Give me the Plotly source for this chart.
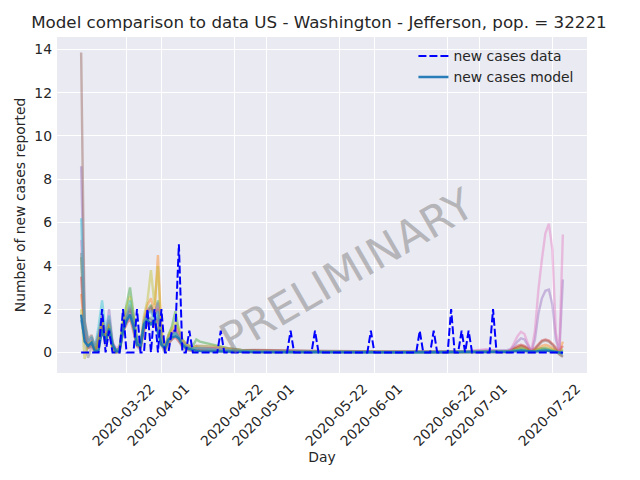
import numpy as np
import pandas as pd
import plotly.graph_objects as go

# ---------------- data ----------------
START_DATE = "2020-03-09"

# reported new cases per day, 2020-03-09 .. 2020-07-25
data_values = [
    0, 0, 0, 0, 0, 0, 2, 0, 1, 0,
    0, 0, 2, 0, 0, 0, 2, 0, 0, 2,
    0, 2, 0, 2, 0, 0, 1, 1, 5, 0,
    0, 1, 0, 0, 0, 0, 0, 0, 0, 0,
    1, 0, 0, 0, 0, 0, 0, 0, 0, 0,
    0, 0, 0, 0, 0, 0, 0, 0, 0, 0,
    1, 0, 0, 0, 0, 0, 0, 1, 0, 0,
    0, 0, 0, 0, 0, 0, 0, 0, 0, 0,
    0, 0, 0, 1, 0, 0, 0, 0, 0, 0,
    0, 0, 0, 0, 0, 0, 0, 1, 0, 0,
    0, 1, 0, 0, 0, 0, 2, 0, 0, 1,
    0, 1, 0, 0, 0, 0, 0, 0, 2, 0,
    0, 0, 0, 0, 0, 0, 0, 0, 0, 0,
    0, 0, 0, 0, 0, 0, 0, 0, 0,
]

# day offsets (from START_DATE) at which the model runs are listed
model_days = (list(range(0, 35))
              + [38, 42, 46, 50, 60, 70, 80, 90, 100, 110, 116]
              + list(range(120, 139)))

# main model curve ("new cases model")
model_main = [
    1.75, 0.5, 0.3, 0.45, 0.05, 0.1, 1.05, 0.5, 1.1, 0.35,
    0.05, 0.05, 1.0, 1.45, 1.75, 1.2, 0.35, 0.3, 1.3, 1.5,
    1.3, 1.5, 0.9, 0.35, 0.2, 0.6, 0.7, 0.75, 0.65, 0.35,
    0.2, 0.15, 0.1, 0.08, 0.06,
    0.06, 0.05, 0.03, 0.02, 0.01, 0.01, 0.01, 0.01, 0.01, 0.01, 0.02,
    0.02, 0.02, 0.02, 0.03, 0.05, 0.07, 0.08, 0.07, 0.05, 0.03,
    0.04, 0.06, 0.08, 0.08, 0.07, 0.05, 0.02, 0.0, -0.05,
]

# ensemble of model runs
run_blue = [
    1.5, 0.7, 0.2, 0.4, 0.1, 0.5, 1.3, 0.6, 1.2, 0.3,
    0.05, 0.1, 1.1, 1.5, 1.9, 1.3, 0.4, 0.3, 1.3, 1.6,
    1.5, 1.4, 1.7, 0.5, 0.2, 0.6, 0.8, 0.9, 0.7, 0.4,
    0.3, 0.2, 0.15, 0.2, 0.15,
    0.1, 0.08, 0.05, 0.03, 0.02, 0.02, 0.01, 0.01, 0.01, 0.01, 0.02,
    0.02, 0.02, 0.03, 0.05, 0.1, 0.15, 0.2, 0.15, 0.1, 0.05,
    0.1, 0.15, 0.2, 0.2, 0.15, 0.1, 0.05, 0.0, -0.05,
]
run_orange = [
    2.7, 1.0, 0.5, 0.6, 0.2, 0.8, 1.6, 0.5, 1.3, 0.2,
    0.1, 0.2, 1.2, 1.8, 2.2, 1.6, 0.6, 0.3, 1.5, 2.2,
    2.5, 1.8, 4.5, 1.0, 0.3, 0.7, 1.0, 1.2, 0.9, 0.5,
    0.3, 0.2, 0.2, 0.3, 0.2,
    0.2, 0.15, 0.1, 0.05, 0.04, 0.03, 0.02, 0.02, 0.02, 0.02, 0.03,
    0.03, 0.04, 0.05, 0.08, 0.15, 0.25, 0.3, 0.25, 0.15, 0.05,
    0.1, 0.2, 0.3, 0.35, 0.3, 0.2, 0.1, 0.05, 0.5,
]
run_green = [
    4.4, 1.2, 0.3, 0.5, 0.1, 0.6, 1.5, 0.8, 1.4, 0.4,
    0.1, 0.1, 1.4, 2.2, 3.0, 1.8, 0.5, 0.2, 1.2, 1.9,
    2.2, 1.6, 2.4, 0.6, 0.1, 0.8, 1.2, 1.9, 1.0, 0.6,
    0.4, 0.3, 0.3, 0.6, 0.5,
    0.35, 0.2, 0.12, 0.08, 0.05, 0.03, 0.02, 0.02, 0.02, 0.03, 0.05,
    0.05, 0.05, 0.05, 0.05, 0.1, 0.1, 0.15, 0.1, 0.05, 0.03,
    0.05, 0.1, 0.15, 0.15, 0.1, 0.05, 0.03, 0.0, 0.1,
]
run_red = [
    3.5, 0.8, 0.2, 0.3, 0.0, 0.4, 1.1, 0.4, 1.0, 0.2,
    0.0, 0.1, 0.9, 1.3, 1.6, 1.0, 0.3, 0.2, 1.0, 1.3,
    1.4, 1.2, 1.5, 0.4, 0.1, 0.4, 0.6, 0.7, 0.5, 0.3,
    0.2, 0.1, 0.1, 0.1, 0.1,
    0.1, 0.08, 0.06, 0.1, 0.08, 0.03, 0.02, 0.02, 0.02, 0.02, 0.03,
    0.03, 0.03, 0.05, 0.1, 0.2, 0.3, 0.35, 0.3, 0.2, 0.1,
    0.2, 0.4, 0.55, 0.6, 0.55, 0.4, 0.2, 0.05, 0.3,
]
run_purple = [
    8.6, 1.4, 0.4, 0.7, 0.2, 0.9, 1.8, 0.7, 2.0, 0.5,
    0.1, 0.2, 1.3, 1.7, 2.1, 1.4, 0.6, 0.4, 1.4, 1.8,
    2.0, 1.6, 2.3, 0.7, 0.2, 0.6, 0.9, 1.0, 0.8, 0.5,
    0.3, 0.3, 0.2, 0.3, 0.3,
    0.25, 0.2, 0.1, 0.06, 0.05, 0.04, 0.03, 0.03, 0.03, 0.04, 0.1,
    0.1, 0.1, 0.1, 0.15, 0.3, 0.5, 0.65, 0.6, 0.3, 0.05,
    0.6, 1.8, 2.5, 2.85, 2.9, 2.2, 0.6, 0.05, 3.37,
]
run_brown = [
    13.85, 1.5, 0.6, 0.8, 0.2, 0.7, 1.4, 0.6, 1.5, 0.4,
    0.1, 0.2, 1.2, 1.6, 2.0, 1.5, 0.5, 0.3, 1.3, 1.9,
    2.1, 1.7, 2.0, 0.6, 0.2, 0.5, 0.8, 1.0, 0.7, 0.4,
    0.3, 0.2, 0.2, 0.2, 0.2,
    0.2, 0.15, 0.1, 0.12, 0.1, 0.05, 0.04, 0.03, 0.03, 0.03, 0.05,
    0.05, 0.05, 0.05, 0.08, 0.15, 0.25, 0.3, 0.25, 0.15, 0.05,
    0.15, 0.35, 0.5, 0.55, 0.5, 0.35, 0.1, -0.1, -0.2,
]
run_pink = [
    5.2, 1.1, 0.5, 0.6, 0.3, 0.8, 1.7, 0.9, 1.6, 0.4,
    0.2, 0.3, 1.1, 1.4, 1.8, 1.2, 0.7, 0.4, 1.5, 2.0,
    1.9, 1.7, 2.1, 0.6, 0.3, 0.7, 0.9, 1.1, 0.9, 0.5,
    0.4, 0.3, 0.2, 0.2, 0.2,
    0.2, 0.15, 0.1, 0.05, 0.04, 0.03, 0.03, 0.03, 0.03, 0.05, 0.15,
    0.05, 0.05, 0.05, 0.1, 0.4, 0.75, 0.95, 0.85, 0.4, 0.05,
    1.0, 2.9, 4.3, 5.5, 5.95, 4.75, 0.9, 0.1, 5.45,
]
run_gray = [
    4.6, 0.6, -0.25, 0.3, 0.0, 0.5, 1.2, 0.3, 1.1, 0.1,
    0.0, 0.0, 1.0, 1.4, 1.7, 1.1, 0.3, 0.1, 1.1, 1.5,
    1.6, 1.3, 1.6, 0.3, 0.0, 0.4, 0.6, 0.8, 0.6, 0.2,
    0.1, 0.1, 0.05, 0.1, 0.1,
    0.05, 0.03, 0.02, 0.0, 0.0, 0.0, 0.0, 0.0, 0.0, 0.0, 0.0,
    0.0, 0.0, 0.0, 0.0, 0.05, 0.05, 0.1, 0.05, 0.0, 0.0,
    0.0, 0.05, 0.1, 0.1, 0.05, 0.0, 0.0, -0.05, -0.2,
]
run_olive = [
    2.0, -0.3, 0.4, 0.5, 0.1, 0.7, 1.6, 0.5, 1.3, 0.2,
    0.0, 0.2, 1.5, 2.0, 2.6, 1.7, 0.5, 0.3, 1.7, 2.4,
    3.8, 2.2, 4.0, 0.9, 0.2, 0.8, 1.1, 1.4, 1.1, 0.6,
    0.4, 0.3, 0.2, 0.3, 0.3,
    0.3, 0.2, 0.1, 0.05, 0.04, 0.03, 0.02, 0.02, 0.02, 0.02, 0.04,
    0.04, 0.04, 0.04, 0.05, 0.1, 0.15, 0.2, 0.15, 0.1, 0.05,
    0.1, 0.15, 0.2, 0.25, 0.2, 0.15, 0.05, 0.0, 0.15,
]
run_cyan = [
    6.2, 1.3, 0.5, 0.7, 0.3, 1.2, 2.4, 1.0, 1.7, 0.4,
    0.1, 0.2, 1.2, 1.6, 2.4, 1.5, 0.6, 0.3, 1.4, 1.8,
    1.9, 1.5, 1.9, 0.5, 0.2, 0.6, 0.8, 0.9, 0.7, 0.4,
    0.3, 0.2, 0.2, 0.2, 0.2,
    0.15, 0.1, 0.08, 0.05, 0.03, 0.02, 0.02, 0.02, 0.02, 0.02, 0.04,
    0.04, 0.04, 0.04, 0.05, 0.1, 0.1, 0.12, 0.1, 0.05, 0.03,
    0.05, 0.1, 0.12, 0.12, 0.1, 0.05, 0.03, 0.0, 0.05,
]

x_tick_labels = ["2020-03-22", "2020-04-01", "2020-04-22", "2020-05-01",
                 "2020-05-22", "2020-06-01", "2020-06-22", "2020-07-01",
                 "2020-07-22"]
y_tick_values = [0, 2, 4, 6, 8, 10, 12, 14]

# ---------------- styles ----------------
runs = [run_blue, run_orange, run_green, run_red, run_purple,
        run_brown, run_pink, run_gray, run_olive, run_cyan]
run_colors = ["31,119,180", "255,127,14", "44,160,44", "214,39,40",
              "148,103,189", "140,86,75", "227,119,194", "127,127,127",
              "188,189,34", "23,190,207"]

start = pd.Timestamp(START_DATE)
data_dates = start + pd.to_timedelta(np.arange(len(data_values)), unit="D")
model_dates = start + pd.to_timedelta(np.array(model_days), unit="D")

FONT = "DejaVu Sans"
TXT = "#262626"

fig = go.Figure()
for vals, col in zip(runs, run_colors):
    fig.add_trace(go.Scatter(
        x=model_dates, y=vals, mode="lines",
        line=dict(color=f"rgba({col},0.42)", width=2.4),
        showlegend=False, hoverinfo="skip"))

fig.add_trace(go.Scatter(
    x=model_dates, y=model_main, mode="lines", name="new cases model",
    line=dict(color="rgba(31,119,180,0.95)", width=2.4), legendrank=2))

fig.add_trace(go.Scatter(
    x=data_dates, y=data_values, mode="lines", name="new cases data",
    line=dict(color="#0000ff", width=2, dash="8px,3px"), legendrank=1))

fig.add_annotation(
    text="PRELIMINARY", xref="paper", yref="paper", x=0.547, y=0.305,
    xanchor="center", yanchor="middle",
    showarrow=False, textangle=-30,
    font=dict(family=FONT, size=43, color="rgba(128,128,128,0.5)"))

# the page body adds an 8px offset, so the figure is 8px smaller
fig.update_layout(
    width=632, height=472,
    margin=dict(l=49, r=53, t=29, b=107, pad=0, autoexpand=False),
    paper_bgcolor="white", plot_bgcolor="#EAEAF2",
    font=dict(family=FONT, size=13.9, color=TXT),
    title=dict(text="Model comparison to data US - Washington - Jefferson, pop. = 32221",
               x=0.492, xanchor="center", xref="container",
               y=0.970, yanchor="middle", yref="container",
               font=dict(family=FONT, size=16.7, color=TXT)),
    showlegend=True,
    legend=dict(x=0.6725, y=0.99, xanchor="left", yanchor="top",
                bgcolor="rgba(0,0,0,0)", font=dict(size=13.9, color=TXT),
                tracegroupgap=0),
    xaxis=dict(type="date", automargin=False,
               range=["2020-03-02 02:00", "2020-07-31 22:00"],
               tickvals=x_tick_labels, ticktext=x_tick_labels,
               tickangle=-45, ticklabelshift=24, ticklabelstandoff=4,
               showgrid=True, gridcolor="white", gridwidth=1.4,
               zeroline=False, showline=False, ticks="",
               title=dict(text="Day", standoff=4, font=dict(size=13.9))),
    yaxis=dict(range=[-0.95, 14.57], tickvals=y_tick_values, automargin=False,
               showgrid=True, gridcolor="white", gridwidth=1.4,
               zeroline=True, zerolinecolor="white", zerolinewidth=1.4,
               showline=False, ticks="", ticklabelstandoff=4,
               title=dict(text="Number of new cases reported", standoff=5,
                          font=dict(size=13.9))),
)

fig.write_html("out.html", config={"displayModeBar": False})
